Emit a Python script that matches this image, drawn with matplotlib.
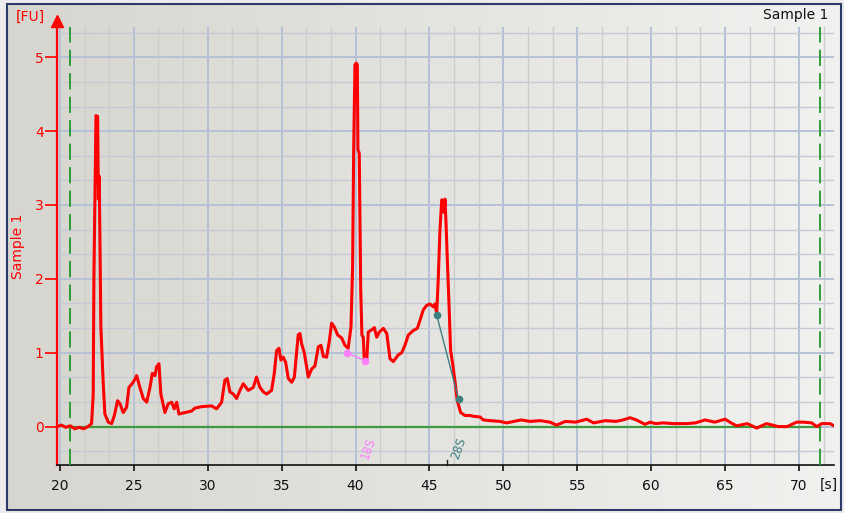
import numpy as np
import matplotlib
matplotlib.use("Agg")
import matplotlib.pyplot as plt
from matplotlib.ticker import MultipleLocator
from matplotlib.patches import Rectangle

# electropherogram trace: time [s] and fluorescence [FU]
time_s = [19.8, 20.1, 20.4, 20.7, 21.0, 21.3, 21.6, 21.9, 22.14, 22.25,
          22.3, 22.37, 22.44, 22.55, 22.6, 22.66, 22.7, 22.77, 22.93, 23.04,
          23.27, 23.5, 23.68, 23.9, 24.06, 24.28, 24.51, 24.67, 24.96, 25.19,
          25.41, 25.64, 25.87, 26.09, 26.25, 26.43, 26.54, 26.7, 26.83, 27.1,
          27.33, 27.56, 27.73, 27.9, 28.05, 28.46, 28.91, 29.13, 29.59, 30.26,
          30.6, 30.94, 31.16, 31.32, 31.5, 31.73, 31.95, 32.18, 32.4, 32.74,
          33.08, 33.3, 33.53, 33.76, 33.98, 34.32, 34.5, 34.66, 34.82, 34.95,
          35.11, 35.27, 35.45, 35.68, 35.86, 36.01, 36.12, 36.24, 36.35, 36.53,
          36.69, 36.8, 37.03, 37.25, 37.48, 37.66, 37.82, 38.04, 38.22, 38.38,
          38.56, 38.79, 39.06, 39.28, 39.5, 39.69, 39.8, 39.87, 39.96, 40.05,
          40.12, 40.16, 40.25, 40.35, 40.43, 40.52, 40.59, 40.75, 40.86, 41.09,
          41.27, 41.43, 41.61, 41.88, 42.11, 42.33, 42.55, 42.89, 43.12, 43.34,
          43.57, 43.9, 44.18, 44.36, 44.58, 44.81, 45.03, 45.26, 45.37, 45.49,
          45.6, 45.71, 45.83, 45.93, 45.99, 46.05, 46.12, 46.2, 46.32, 46.43,
          46.57, 46.72, 46.88, 47.11, 47.4, 47.74, 47.96, 48.42, 48.64, 49.1,
          49.77, 50.22, 50.7, 51.2, 51.8, 52.5, 53.15, 53.6, 54.2, 54.9,
          55.64, 56.1, 56.9, 57.6, 58.1, 58.57, 59.0, 59.58, 59.92, 60.3,
          60.8, 61.5, 62.4, 63.0, 63.64, 64.3, 65.0, 65.4, 65.79, 66.5,
          67.14, 67.8, 68.6, 69.2, 69.84, 70.3, 70.86, 71.2, 71.53, 72.1,
          72.37]
fu = [0.0, 0.02, -0.01, 0.01, -0.03, -0.01, -0.03, 0.0, 0.04, 0.42,
      2.03, 3.07, 4.21, 4.2, 3.08, 3.39, 2.66, 1.35, 0.58, 0.17,
      0.06, 0.04, 0.15, 0.35, 0.31, 0.19, 0.26, 0.53, 0.6, 0.69,
      0.53, 0.38, 0.33, 0.53, 0.72, 0.69, 0.81, 0.85, 0.44, 0.19,
      0.31, 0.33, 0.24, 0.33, 0.17, 0.19, 0.21, 0.25, 0.27, 0.28,
      0.24, 0.33, 0.63, 0.65, 0.47, 0.44, 0.38, 0.49, 0.58, 0.49,
      0.53, 0.67, 0.53, 0.47, 0.44, 0.49, 0.72, 1.03, 1.06, 0.9,
      0.94, 0.87, 0.65, 0.6, 0.67, 0.99, 1.24, 1.26, 1.12, 1.0,
      0.81, 0.67, 0.78, 0.82, 1.08, 1.1, 0.95, 0.94, 1.15, 1.4,
      1.35, 1.24, 1.2, 1.1, 1.06, 1.35, 2.16, 3.7, 4.9, 4.92,
      4.9, 3.75, 3.7, 1.85, 1.24, 1.21, 0.9, 0.88, 1.28, 1.31,
      1.34, 1.21, 1.28, 1.33, 1.26, 0.92, 0.88, 0.97, 1.0, 1.1,
      1.24, 1.3, 1.33, 1.44, 1.58, 1.64, 1.66, 1.62, 1.66, 1.53,
      2.03, 2.66, 3.07, 3.05, 2.9, 3.08, 2.75, 2.3, 1.67, 1.03,
      0.85, 0.62, 0.35, 0.19, 0.15, 0.15, 0.14, 0.13, 0.09, 0.08,
      0.07, 0.05, 0.07, 0.09, 0.07, 0.08, 0.06, 0.02, 0.07, 0.06,
      0.1, 0.05, 0.08, 0.07, 0.09, 0.12, 0.09, 0.03, 0.06, 0.04,
      0.05, 0.04, 0.04, 0.05, 0.09, 0.06, 0.1, 0.05, 0.01, 0.04,
      -0.02, 0.04, 0.0, 0.0, 0.06, 0.06, 0.05, 0.0, 0.04, 0.04,
      0.01]

# ribosomal peak markers
s18_x = [39.4, 40.64]
s18_y = [1.0, 0.89]
s28_x = [45.49, 46.97]
s28_y = [1.51, 0.37]
label_18s = "18S"
label_28s = "28S"
label_18s_x = 40.85
label_28s_x = 46.95

# analysis window and baseline
window = [20.71, 71.42]
baseline_y = [0, 0]

xticks = [20, 25, 30, 35, 40, 45, 50, 55, 60, 65, 70]
yticks = [0, 1, 2, 3, 4, 5]

fig = plt.figure(figsize=(8.44, 5.13), dpi=100)
fig.patch.set_facecolor("#ececec")

# grey panel with soft gradient (darker left, lighter right)
bg = fig.add_axes([0.0083, 0.0058, 0.988, 0.986])
grad = np.linspace(0, 1, 256).reshape(1, -1)
c0 = np.array([214, 213, 207]) / 255
c1 = np.array([241, 241, 239]) / 255
img = c0[None, None, :] * (1 - grad[..., None]) + c1[None, None, :] * grad[..., None]
bg.imshow(img, aspect="auto", extent=[0, 1, 0, 1])
bg.set_axis_off()
fig.patches.append(Rectangle((0.0083, 0.0058), 0.988, 0.986, transform=fig.transFigure,
                             fill=False, edgecolor="#2b3a67", lw=1.5))

ax = fig.add_axes([0.0675, 0.0936, 0.9207, 0.8538])
ax.set_facecolor("none")

ax.plot(time_s, fu, color="#ff0000", lw=2.2, zorder=5)

ax.plot(window, baseline_y, color="#3f9a3f", lw=1.6, zorder=4)
for w in window:
    ax.axvline(w, color="#22962a", lw=1.3, linestyle=(0, (9, 4)), zorder=4)

ax.plot(s18_x, s18_y, color="#ff80ff", lw=1.0, marker="o", ms=4.5, zorder=6)
ax.plot(s28_x, s28_y, color="#3e7f7f", lw=1.0, marker="o", ms=4.5, zorder=6)
ax.text(label_18s_x, -0.3, label_18s, color="#ff80ff", fontsize=8.5, rotation=70,
        ha="center", va="center", zorder=6)
ax.text(label_28s_x, -0.3, label_28s, color="#3e7f7f", fontsize=8.5, rotation=70,
        ha="center", va="center", zorder=6)
ax.plot([46.2, 46.2], [-0.52, -0.45], color="#222222", lw=1.0, clip_on=False)

ax.set_xlim(19.8, 72.37)
ax.set_ylim(-0.52, 5.41)
ax.set_xticks(xticks)
ax.set_yticks(yticks)
ax.xaxis.set_minor_locator(MultipleLocator(5 / 3))
ax.yaxis.set_minor_locator(MultipleLocator(1 / 3))
ax.grid(which="minor", axis="x", color="#cdcdcb", lw=1.0, zorder=0)
ax.grid(which="minor", axis="y", color="#c5cbd4", lw=1.0, zorder=0)
ax.grid(which="major", color="#b5c1d5", lw=1.4, zorder=1)
ax.set_axisbelow(True)

for side in ["top", "right"]:
    ax.spines[side].set_visible(False)
ax.spines["left"].set_color("#ff0000")
ax.spines["left"].set_linewidth(1.6)
ax.spines["bottom"].set_color("#111111")
ax.spines["bottom"].set_linewidth(1.2)

ax.tick_params(axis="x", which="major", direction="out", length=4, width=1.2,
               colors="#111111", labelsize=10, pad=6)
ax.tick_params(axis="y", which="major", direction="out", length=8.5, width=1.2,
               colors="#ff0000", labelsize=10, pad=1)
ax.tick_params(which="minor", length=0)

# arrow head on top of the y axis
ax.plot([19.8], [5.49], marker="^", ms=8, color="#ff0000", clip_on=False, zorder=7)

ax.set_ylabel("Sample 1", color="#ff0000", fontsize=10)
ax.yaxis.set_label_coords(-0.041, 0.5)

fig.text(0.0355, 0.967, "[FU]", color="#ff0000", fontsize=10, ha="center", va="center")
fig.text(0.982, 0.0546, "[s]", color="#111111", fontsize=10, ha="center", va="center")
fig.text(0.981, 0.971, "Sample 1", color="#111111", fontsize=10, ha="right", va="center")

fig.savefig("out.png", dpi=100, facecolor=fig.get_facecolor())
